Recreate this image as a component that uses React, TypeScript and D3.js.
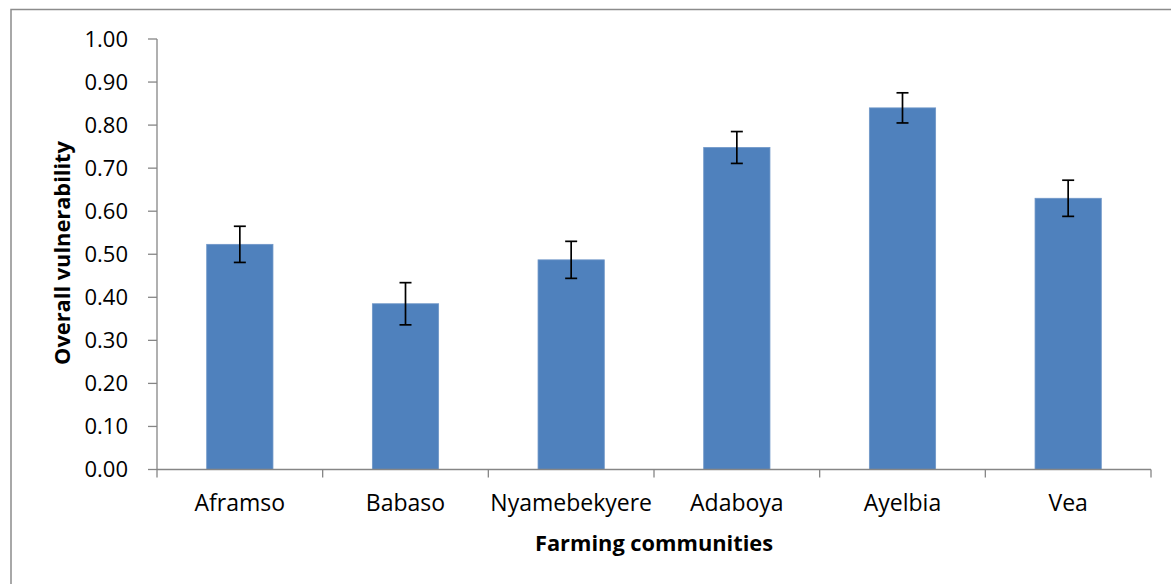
import React from "react";
import * as d3 from "d3";

const categories = ["Aframso", "Babaso", "Nyamebekyere", "Adaboya", "Ayelbia", "Vea"];
const values = [0.523, 0.385, 0.487, 0.748, 0.840, 0.630];
const errors = [0.042, 0.049, 0.043, 0.037, 0.035, 0.042];
const yTicks = [0, 0.1, 0.2, 0.3, 0.4, 0.5, 0.6, 0.7, 0.8, 0.9, 1.0];

const W = 1171;
const H = 584;
const left = 157;
const right = 1151;
const top = 39;
const bottom = 469.5;
const font = "'Open Sans', sans-serif";
const axisColor = "#868686";

export default function App() {
  const x = d3.scaleBand<string>().domain(categories).range([left, right]).paddingInner(0).paddingOuter(0);
  const y = d3.scaleLinear().domain([0, 1]).range([bottom, top]);
  const barW = x.bandwidth() * 0.4;
  const cap = 6;
  return (
    <svg width={W} height={H} style={{ position: "absolute", left: 0, top: 0 }}>
      <rect x={0} y={0} width={W} height={H} fill="#fff" />
      <rect x={11} y={9.5} width={W + 20} height={H + 20} fill="none" stroke="#8c8c8c" strokeWidth={1.5} />
      {categories.map((c, i) => {
        const cx = x(c)! + x.bandwidth() / 2;
        return (
          <rect key={c} x={cx - barW / 2} y={y(values[i])} width={barW} height={bottom - y(values[i])}
            fill="#4F81BD" stroke="#6f96c8" strokeWidth={0.8} />
        );
      })}
      {categories.map((c, i) => {
        const cx = x(c)! + x.bandwidth() / 2;
        const y1 = y(values[i] + errors[i]);
        const y2 = y(values[i] - errors[i]);
        return (
          <g key={c} stroke="#000" strokeWidth={1.7}>
            <line x1={cx} x2={cx} y1={y1} y2={y2} />
            <line x1={cx - cap} x2={cx + cap} y1={y1} y2={y1} />
            <line x1={cx - cap} x2={cx + cap} y1={y2} y2={y2} />
          </g>
        );
      })}
      {/* y axis */}
      <line x1={left} x2={left} y1={top} y2={bottom} stroke={axisColor} strokeWidth={1.3} />
      {yTicks.map((t) => (
        <g key={t}>
          <line x1={left - 9} x2={left} y1={y(t)} y2={y(t)} stroke={axisColor} strokeWidth={1.3} />
          <text x={128} y={y(t)} dy="0.36em" textAnchor="end" fontFamily={font} fontSize={22} fill="#000">
            {t.toFixed(2)}
          </text>
        </g>
      ))}
      {/* x axis */}
      <line x1={left} x2={right} y1={bottom} y2={bottom} stroke={axisColor} strokeWidth={1.3} />
      {[...categories.map((c) => x(c)!), right].map((px, i) => (
        <line key={i} x1={px} x2={px} y1={bottom} y2={bottom + 8} stroke={axisColor} strokeWidth={1.3} />
      ))}
      {categories.map((c) => (
        <text key={c} x={x(c)! + x.bandwidth() / 2} y={511} textAnchor="middle" fontFamily={font} fontSize={23} fill="#000">
          {c}
        </text>
      ))}
      <text x={654} y={551} textAnchor="middle" fontFamily={font} fontSize={21.8} fontWeight="bold" fill="#000">
        Farming communities
      </text>
      <text transform={`translate(70,253) rotate(-90)`} textAnchor="middle" fontFamily={font} fontSize={21.8} fontWeight="bold" fill="#000">
        Overall vulnerability
      </text>
    </svg>
  );
}
